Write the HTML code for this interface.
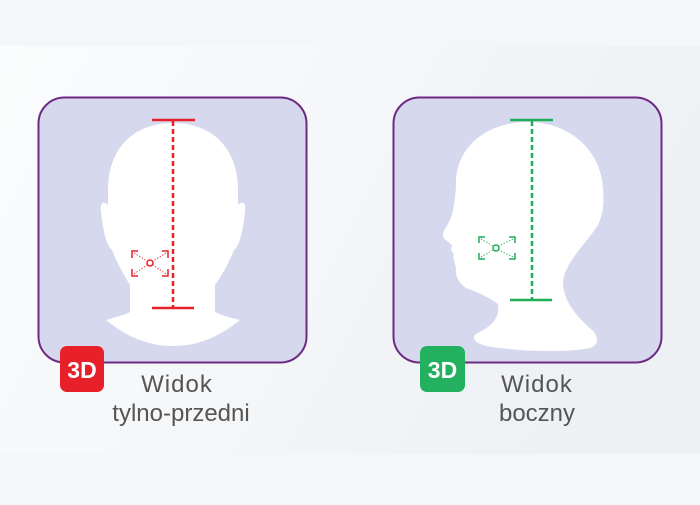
<!DOCTYPE html>
<html><head><meta charset="utf-8"><style>
html,body{margin:0;padding:0}
body{width:700px;height:500px;overflow:hidden;background:#f5f8fa;font-family:"Liberation Sans",sans-serif}
</style></head><body>
<svg width="700" height="500" viewBox="0 0 700 500" xmlns="http://www.w3.org/2000/svg">
<defs><linearGradient id="bg" x1="0" y1="0" x2="1" y2="0.3">
<stop offset="0" stop-color="#fbfcfd"/><stop offset="1" stop-color="#eef1f4"/></linearGradient></defs>
<rect width="700" height="500" fill="#f4f7fa"/>
<rect y="46" width="700" height="408" fill="url(#bg)"/>
<rect x="38.5" y="97.5" width="268" height="265" rx="26" fill="#d6d9ee" stroke="#6e2a83" stroke-width="2"/>
<rect x="393.5" y="97.5" width="268" height="265" rx="26" fill="#d6d9ee" stroke="#6e2a83" stroke-width="2"/>
<path fill="#fff" d="M173 123 C132 123 108 150 108 190 L108 205 C103 200 100 203 101 212 C103 230 106 245 112 250 C118 265 124 275 130 285 L130 312 C122 316 112 318 106 320 C128 338 150 346 173 346 C196 346 218 338 240 320 C233 318 222 316 215 312 L215 285 C222 275 228 265 234 250 C240 245 243 230 245 212 C246 203 243 200 238 205 L238 190 C238 150 214 123 173 123Z"/>
<path fill="#fff" d="M528 122 C488 122 458 145 456 180 C456 195 454 210 450 220 C446 228 442 232 443 236 C444 240 450 242 452 246 C450 250 452 252 454 254 C452 258 455 262 456 268 C455 275 458 282 466 288 C478 292 490 298 498 304 C500 315 495 325 476 334 C470 340 478 346 500 348 C530 352 570 352 590 348 C598 345 600 338 592 330 C575 315 563 300 563 282 C565 262 585 245 598 225 C605 210 604 195 602 180 C596 145 565 122 528 122Z"/>
<g stroke="#e8202a" stroke-width="2.5" fill="none">
<line x1="152" y1="120" x2="195" y2="120"/>
<line x1="152" y1="308" x2="194" y2="308"/>
<line x1="173" y1="121" x2="173" y2="307" stroke-dasharray="5,3"/>
<path d="M132 258 V251 H138 M162 251 H168 V258 M132 269 V276 H138 M162 276 H168 V269" stroke-width="1.5"/>
<circle cx="150" cy="263" r="3" stroke-width="1.5"/>
<path d="M134 253 L147 261 M166 253 L153 261 M134 274 L147 265 M166 274 L153 265" stroke-width="0.8" stroke-dasharray="1.5,1.5"/>
</g>
<g stroke="#1fad55" stroke-width="2.5" fill="none">
<line x1="510" y1="120" x2="553" y2="120"/>
<line x1="510" y1="300" x2="552" y2="300"/>
<line x1="532" y1="121" x2="532" y2="299" stroke-dasharray="5,3"/>
<path d="M479 243 V237 H485 M509 237 H515 V243 M479 253 V259 H485 M509 259 H515 V253" stroke-width="1.5"/>
<circle cx="496" cy="248" r="3" stroke-width="1.5"/>
<path d="M481 239 L493 246 M513 239 L499 246 M481 257 L493 250 M513 257 L499 250" stroke-width="0.8" stroke-dasharray="1.5,1.5"/>
</g>
<rect x="60" y="346" width="44" height="46" rx="7" fill="#e8202a"/>
<text x="82" y="378" text-anchor="middle" font-family="Liberation Sans" font-weight="bold" font-size="23" fill="#fff">3D</text>
<rect x="420" y="346" width="45" height="46" rx="7" fill="#23b160"/>
<text x="442.5" y="378" text-anchor="middle" font-family="Liberation Sans" font-weight="bold" font-size="23" fill="#fff">3D</text>
<g font-family="Liberation Sans" font-size="24" fill="#555" text-anchor="middle">
<text x="177" y="392" letter-spacing="1">Widok</text>
<text x="181" y="421">tylno-przedni</text>
<text x="537" y="392" letter-spacing="1">Widok</text>
<text x="537" y="421">boczny</text>
</g>
</svg>
</body></html>
